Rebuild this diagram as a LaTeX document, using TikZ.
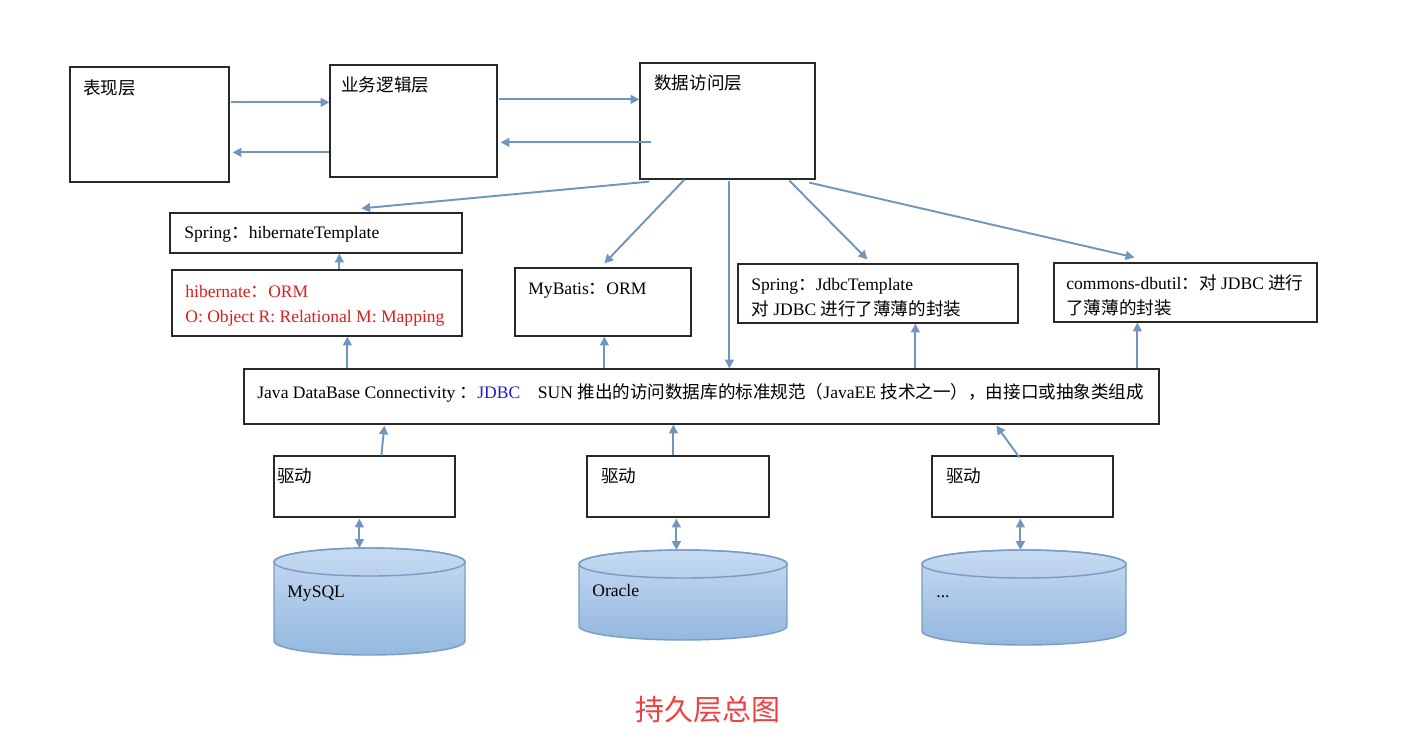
\documentclass[tikz,border=0pt]{standalone}
\usepackage{fontspec}
\setmainfont{Liberation Serif}
\newfontfamily\cjk{Noto Sans CJK SC}
\usepackage{xcolor}
\usetikzlibrary{arrows.meta, positioning, shapes.geometric, fit, calc}
\definecolor{boxline}{RGB}{40,40,40}
\definecolor{arrowblue}{RGB}{112,150,192}
\definecolor{dbtop}{RGB}{198,218,242}
\definecolor{dbbottom}{RGB}{148,184,222}
\definecolor{dbline}{RGB}{120,156,196}
\definecolor{ormred}{RGB}{220,30,30}
\definecolor{jdbcblue}{RGB}{30,30,200}
\definecolor{titlered}{RGB}{238,64,64}

% database drum: name, centre x, top y, width, height (all in px units)
\newcommand\dbdrum[5]{%
  \pgfmathsetmacro\drumcx{#2}\pgfmathsetmacro\drumrx{#4/2}\pgfmathsetmacro\drumry{14}%
  \pgfmathsetmacro\drumyt{#3+\drumry}\pgfmathsetmacro\drumyb{#3+#5-\drumry}%
  \path[dbbody] (\drumcx-\drumrx,\drumyt) -- (\drumcx-\drumrx,\drumyb)
    arc[start angle=180, end angle=360, x radius=\drumrx*0.02cm, y radius=\drumry*0.02cm]
    -- (\drumcx+\drumrx,\drumyt)
    arc[start angle=0, end angle=180, x radius=\drumrx*0.02cm, y radius=\drumry*0.02cm] -- cycle;
  \draw[dbrim] (\drumcx,\drumyt) ellipse[x radius=\drumrx*0.02cm, y radius=\drumry*0.02cm];
  \coordinate (#1) at (\drumcx,#3);
}

\begin{document}
\begin{tikzpicture}[x=0.02cm, y=-0.02cm,
  box/.style={draw=boxline, line width=0.7pt, inner sep=0pt},
  txt/.style={inner sep=0pt, anchor=base west, font=\fontsize{10}{12}\selectfont},
  arr/.style={draw=arrowblue, line width=1.1pt, -{Triangle[length=5pt,width=5pt]}},
  biarr/.style={arr, {Triangle[length=5pt,width=5pt]}-{Triangle[length=5pt,width=5pt]}},
  dbbody/.style={draw=dbline, line width=0.8pt, top color=dbtop, bottom color=dbbottom},
  dbrim/.style={draw=dbline, line width=0.8pt}
]
  \useasboundingbox (0,0) rectangle (1404,745);

  % Three layers at the top
  \node[box, fit={(70,67) (229,182)}] (pres) {};
  \node[box, fit={(330,65) (497,177)}] (biz) {};
  \node[box, fit={(640,63) (815,179)}] (dao) {};
  \node[txt] (tPres) at (83,94) {\cjk 表现层};
  \node[txt] (tBiz) at (341,91) {\cjk 业务逻辑层};
  \node[txt] (tDao) at (654,89) {\cjk 数据访问层};

  % Frameworks
  \node[box, fit={(170,213) (462,253)}] (tplH) {};
  \node[box, fit={(172,270) (462,336)}] (hib) {};
  \node[box, fit={(515,268) (691,336)}] (mybatis) {};
  \node[box, fit={(738,264) (1018,323)}] (tplJ) {};
  \node[box, fit={(1054,263) (1317,322)}] (dbutil) {};
  \node[txt] (tTplH) at (184,238) {Spring{\cjk ：}hibernateTemplate};
  \node[txt, text=ormred] (tHib1) at (185,297) {hibernate{\cjk ：}ORM};
  \node[txt, text=ormred] (tHib2) at (185,322) {O: Object R: Relational M: Mapping};
  \node[txt] (tMyb) at (528,294) {MyBatis{\cjk ：}ORM};
  \node[txt] (tTplJ1) at (751,290) {Spring{\cjk ：}JdbcTemplate};
  \node[txt] (tTplJ2) at (751,315) {{\cjk 对} JDBC {\cjk 进行了薄薄的封装}};
  \node[txt] (tDbu1) at (1066,289) {commons-dbutil{\cjk ：对} JDBC {\cjk 进行}};
  \node[txt] (tDbu2) at (1066,314) {\cjk 了薄薄的封装};

  % JDBC
  \node[box, fit={(244,369) (1159,424)}] (jdbc) {};
  \node[txt] (tJdbc) at (257,398) {Java DataBase Connectivity {\cjk ：}\textcolor{jdbcblue}{JDBC}\quad SUN {\cjk 推出的访问数据库的标准规范（}JavaEE {\cjk 技术之一），由接口或抽象类组成}};

  % Drivers and databases
  \node[box, fit={(274,456) (455,517)}] (drv1) {};
  \node[box, fit={(587,456) (769,517)}] (drv2) {};
  \node[box, fit={(932,456) (1113,517)}] (drv3) {};
  \node[txt] (tDrv1) at (277,482) {\cjk 驱动};
  \node[txt] (tDrv2) at (601,482) {\cjk 驱动};
  \node[txt] (tDrv3) at (946,482) {\cjk 驱动};
  \dbdrum{mysql}{369.5}{548}{191}{107}
  \dbdrum{oracle}{683}{550}{208}{90}
  \dbdrum{other}{1024}{550}{204}{95}
  \node[txt] (tMysql) at (287,597) {MySQL};
  \node[txt] (tOracle) at (592,596) {Oracle};
  \node[txt] (tOther) at (936,597) {...};

  % Arrows between the layers
  \draw[arr] ($(pres.north east)+(1,36)$) coordinate (p1) -- (p1 -| biz.west);
  \draw[arr] ($(biz.north west)+(0,88)$) coordinate (p2) -- ($(p2 -| pres.east)+(3,0)$);
  \draw[arr] ($(biz.north east)+(1,35)$) coordinate (p3) -- (p3 -| dao.west);
  \draw[arr] ($(dao.north west)+(12,80)$) coordinate (p4) -- ($(p4 -| biz.east)+(3,0)$);

  % From the data access layer downwards
  \draw[arr] ($(dao.south west)+(10,2)$) -- ($(tplH.north west)+(192,-4)$);
  \draw[arr] ($(dao.south west)+(45,0)$) -- ($(mybatis.north west)+(90,-4)$);
  \draw[arr] ($(dao.south west)+(90,1)$) coordinate (p5) -- (p5 |- jdbc.north);
  \draw[arr] ($(dao.south west)+(150,1)$) -- ($(tplJ.north west)+(130,-4)$);
  \draw[arr] ($(dao.south west)+(170,3)$) -- ($(dbutil.north west)+(81,-5)$);
  \draw[arr] ($(hib.north west)+(168,0)$) coordinate (p6) -- (p6 |- tplH.south);

  % JDBC upwards
  \foreach \dx/\tgt in {104/hib, 361/mybatis, 672/tplJ, 894/dbutil}
    \draw[arr] ($(jdbc.north west)+(\dx,0)$) coordinate (j) -- (j |- \tgt.south);
  \draw[arr] ($(drv1.north west)+(108,0)$) -- ($(jdbc.south west)+(141,1)$);
  \draw[arr] ($(drv2.north west)+(87,0)$) coordinate (p7) -- (p7 |- jdbc.south);
  \draw[arr] ($(drv3.north west)+(88,2)$) -- ($(jdbc.south west)+(753,1)$);

  % Drivers to databases
  \foreach \dx/\drv/\base in {86/drv1/mysql, 90/drv2/oracle, 89/drv3/other}
    \draw[biarr] ($(\drv.south west)+(\dx,1)$) coordinate (k) -- (k |- \base);

  \node[text=titlered, font=\cjk\fontsize{16.5}{20}\selectfont] (title) at (708,710) {持久层总图};
\end{tikzpicture}
\end{document}
